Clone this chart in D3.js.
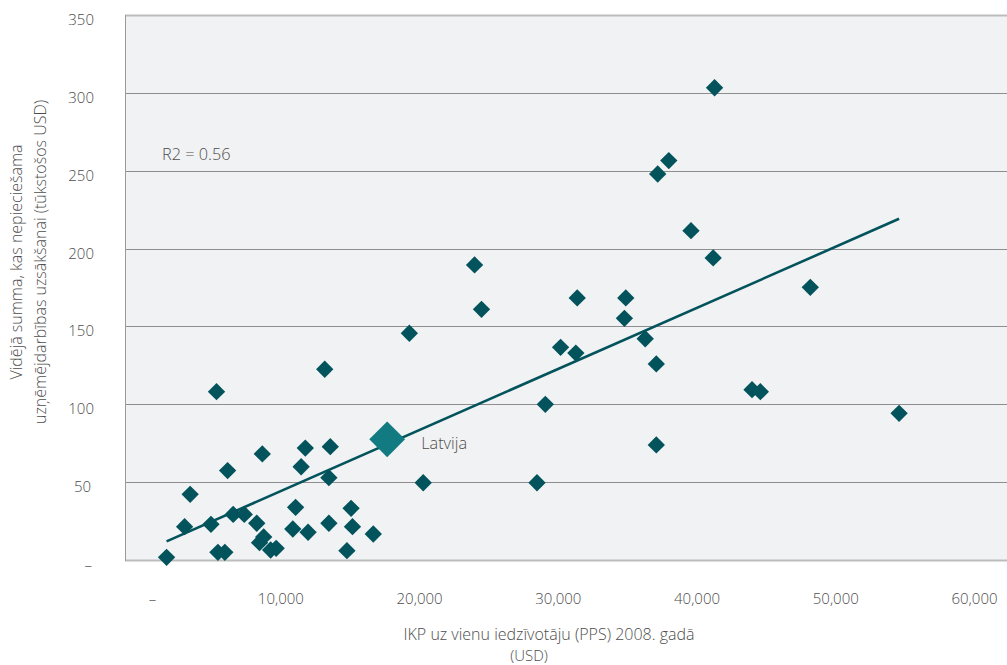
<!DOCTYPE html>
<html>
<head>
<meta charset="utf-8">
<script src="https://cdn.jsdelivr.net/npm/d3@7"></script>
<style>
  body { margin: 0; background: #fff; }
  text { font-family: "Open Sans", "Noto Sans", sans-serif; }
</style>
</head>
<body>
<svg id="chart" width="1007" height="665"></svg>
<script>
// GDP per capita (PPS, USD) and average start-up capital (thousand USD) by country
const gdpPerCapita = [
  41300, 38000, 37200, 39600, 41200, 31400, 34900, 34800, 48200, 30200,
  31300, 36300, 37100, 29100, 44000, 44600, 54600, 37100, 28500, 20300,
  24000, 24500, 19300, 13200,  5400,  8700, 11800, 13600,  6200, 11500,
  13500,  3500, 11100, 15100,  3100,  5000,  6600,  7400,  8300, 10900,
  12000, 13500, 15200, 16700,  8500,  8800,  9300,  9700, 14800,  5500,
   6000,  1800
];
const startupCost = [
  303.3, 256.5, 247.9, 211.5, 194.0, 168.3, 168.3, 155.2, 175.1, 136.6,
  132.9, 142.1, 125.9, 100.0, 109.4, 108.1,  94.2,  73.9,  49.6,  49.6,
  189.5, 161.0, 145.6, 122.5, 108.1,  68.1,  71.9,  72.8,  57.4,  59.9,
   52.9,  42.2,  33.8,  33.2,  21.4,  22.9,  29.3,  29.3,  23.6,  19.9,
   17.8,  23.6,  21.4,  16.7,  11.1,  14.8,   6.4,   7.5,   6.0,   4.9,
    4.9,   1.7
];
const highlightName = "Latvija";
const highlightGdp = 17700;
const highlightCost = 77.5;

const xTickValues = [0, 10000, 20000, 30000, 40000, 50000, 60000];
const yTickValues = [0, 50, 100, 150, 200, 250, 300, 350];
const r2Text = "R2 = 0.56";
const xTitleLines = ["IKP uz vienu iedzīvotāju (PPS) 2008. gadā", "(USD)"];
const yTitleLines = ["Vidējā summa, kas nepieciešama", "uzņēmējdarbības uzsākšanai (tūkstošos USD)"];

const W = 1007, H = 665;
const plot = { left: 125, right: 1007, top: 15, bottom: 560 };
const dark = "#02535b";
const accent = "#127a81";
const textColor = "#4d4d4d";

const svg = d3.select("#chart");

const x = d3.scaleLinear().domain([0, 60000]).range([141.6, 974]);
const y = d3.scaleLinear().domain([0, 350]).range([plot.bottom, plot.top]);

// plot background
svg.append("rect")
  .attr("x", plot.left).attr("y", plot.top)
  .attr("width", plot.right - plot.left).attr("height", plot.bottom - plot.top)
  .attr("fill", "#f1f2f4");

// horizontal gridlines
svg.append("g").selectAll("line")
  .data(yTickValues)
  .join("line")
  .attr("x1", plot.left).attr("x2", plot.right)
  .attr("y1", d => Math.round(y(d)) + 0.5).attr("y2", d => Math.round(y(d)) + 0.5)
  .attr("stroke", d => (d === 0 || d === 350) ? "#bdbdbd" : "#8e8e8e")
  .attr("stroke-width", d => (d === 0 || d === 350) ? 2 : 1);

// left border
svg.append("line")
  .attr("x1", plot.left + 0.5).attr("x2", plot.left + 0.5)
  .attr("y1", plot.top).attr("y2", plot.bottom + 1)
  .attr("stroke", "#9a9a9a").attr("stroke-width", 1);

// axes (labels only)
const fmtX = d => d === 0 ? "–" : d3.format(",")(d);
const fmtY = d => d === 0 ? "–" : String(d);

const xAxis = svg.append("g")
  .attr("transform", `translate(0,${plot.bottom})`)
  .call(d3.axisBottom(x).tickValues(xTickValues).tickFormat(fmtX).tickSize(0).tickPadding(0));
xAxis.select(".domain").remove();
xAxis.selectAll("text")
  .attr("y", 44).attr("dy", null)
  .attr("dx", d => d === 0 ? 10.5 : 0)
  .attr("fill", textColor).attr("font-size", 15).attr("font-weight", 300);

const yAxis = svg.append("g")
  .attr("transform", "translate(94,0)")
  .call(d3.axisLeft(y).tickValues(yTickValues).tickFormat(fmtY).tickSize(0).tickPadding(0));
yAxis.select(".domain").remove();
yAxis.selectAll("text")
  .attr("x", d => d === 0 ? -2 : (d === 50 ? -3 : 0))
  .attr("dy", 9.5)
  .attr("fill", textColor).attr("font-size", 15).attr("font-weight", 300);

// least-squares trendline over all countries
const allX = gdpPerCapita.concat([highlightGdp]);
const allY = startupCost.concat([highlightCost]);
const mx = d3.mean(allX), my = d3.mean(allY);
let sxy = 0, sxx = 0;
allX.forEach((v, i) => { sxy += (v - mx) * (allY[i] - my); sxx += (v - mx) * (v - mx); });
const slope = sxy / sxx;
const intercept = my - slope * mx;
const [xmin, xmax] = d3.extent(allX);

svg.append("path")
  .datum([xmin, xmax])
  .attr("d", d3.line().x(d => x(d)).y(d => y(intercept + slope * d)))
  .attr("stroke", dark).attr("stroke-width", 2.6).attr("fill", "none");

// diamonds
const diamond = d3.symbol().type(d3.symbolSquare).size(150);
svg.append("g").selectAll("path")
  .data(gdpPerCapita.map((g, i) => [g, startupCost[i]]))
  .join("path")
  .attr("d", diamond)
  .attr("transform", d => `translate(${x(d[0])},${y(d[1])}) rotate(45)`)
  .attr("fill", dark);

// highlighted country
svg.append("path")
  .attr("d", d3.symbol().type(d3.symbolSquare).size(640)())
  .attr("transform", `translate(${x(highlightGdp)},${y(highlightCost)}) rotate(45)`)
  .attr("fill", accent);
svg.append("text")
  .attr("x", x(highlightGdp) + 34).attr("y", y(highlightCost) + 10)
  .attr("fill", textColor).attr("font-size", 16.3).attr("font-weight", 300)
  .text(highlightName);

// R² annotation
svg.append("text")
  .attr("x", 162).attr("y", 159.5)
  .attr("fill", textColor).attr("font-size", 16.3).attr("font-weight", 300)
  .text(r2Text);

// axis titles
svg.append("text")
  .attr("x", 549).attr("y", 639.5)
  .attr("text-anchor", "middle")
  .attr("fill", textColor).attr("font-size", 16).attr("font-weight", 300)
  .text(xTitleLines[0]);
svg.append("text")
  .attr("x", 529).attr("y", 660.5)
  .attr("text-anchor", "middle")
  .attr("fill", textColor).attr("font-size", 15).attr("font-weight", 300)
  .text(xTitleLines[1]);

const yTitle = svg.append("g").attr("transform", "translate(0,262) rotate(-90)");
yTitle.selectAll("text")
  .data(yTitleLines)
  .join("text")
  .attr("x", 0)
  .attr("y", (d, i) => 22 + i * 24)
  .attr("text-anchor", "middle")
  .attr("fill", textColor).attr("font-size", 16).attr("font-weight", 300)
  .text(d => d);
</script>
</body>
</html>
